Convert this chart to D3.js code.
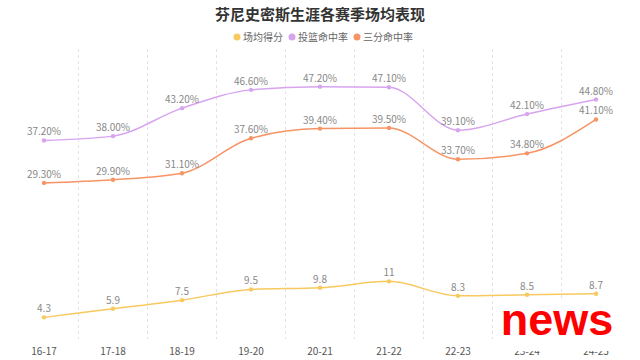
<!DOCTYPE html>
<html><head><meta charset="utf-8">
<script src="https://cdn.jsdelivr.net/npm/d3@7"></script>
<style>body{margin:0;background:#fff}svg{display:block}</style>
</head><body><svg id="c" width="640" height="360"></svg>
<script>
const seasons = ["16-17","17-18","18-19","19-20","20-21","21-22","22-23","23-24","24-25"];
const points = [4.3,5.9,7.5,9.5,9.8,11,8.3,8.5,8.7];
const fgPct = [37.2,38.0,43.2,46.6,47.2,47.1,39.1,42.1,44.8];
const threePct = [29.3,29.9,31.1,37.6,39.4,39.5,33.7,34.8,41.1];
const seriesNames = ["场均得分","投篮命中率","三分命中率"];
const colors = ["#f7c95f","#d7a4f0","#f79465"];

const svg = d3.select("#c");
const font = "'Noto Sans CJK SC','Noto Sans',sans-serif";
const x = d3.scaleBand().domain(seasons).range([9.5,630.5]);
const y = d3.scaleLinear().domain([0,54.2]).range([340.5,49]);

svg.append("text").attr("x",320).attr("y",20).attr("text-anchor","middle")
  .attr("font-family",font).attr("font-weight","bold").attr("font-size",15).attr("fill","#333")
  .text("芬尼史密斯生涯各赛季场均表现");

// legend
const legX = [237,292,357];
seriesNames.forEach((n,i)=>{
  svg.append("circle").attr("cx",legX[i]).attr("cy",37).attr("r",3.5).attr("fill",colors[i]);
  svg.append("text").attr("x",legX[i]+6).attr("y",40.5).attr("font-family",font).attr("font-size",10)
    .attr("fill","#666").text(n);
});

// grid
const bounds = seasons.slice(1).map(s=>x(s));
svg.selectAll("line.g").data(bounds).enter().append("line")
  .attr("x1",d=>d).attr("x2",d=>d).attr("y1",49).attr("y2",339)
  .attr("stroke","#e3e3e3").attr("stroke-dasharray","3,3");

const cx = s=>x(s)+x.bandwidth()/2;
const data = [points,fgPct,threePct];
const fmt = [d=>String(d), d=>d.toFixed(2)+"%", d=>d.toFixed(2)+"%"];
data.forEach((arr,i)=>{
  const line = d3.line().x((d,j)=>cx(seasons[j])).y(d=>y(d)).curve(d3.curveMonotoneX);
  svg.append("path").attr("d",line(arr)).attr("fill","none").attr("stroke",colors[i]).attr("stroke-width",1.5);
  svg.selectAll(null).data(arr).enter().append("circle")
    .attr("cx",(d,j)=>cx(seasons[j])).attr("cy",d=>y(d)).attr("r",2.2).attr("fill",colors[i]);
  svg.selectAll(null).data(arr).enter().append("text")
    .attr("x",(d,j)=>cx(seasons[j])).attr("y",d=>y(d)-5).attr("text-anchor","middle")
    .attr("font-family",font).attr("font-size",10).attr("fill","#888").text(fmt[i]);
});

// x axis labels
svg.selectAll("text.xl").data(seasons).enter().append("text")
  .attr("x",d=>cx(d)).attr("y",355).attr("text-anchor","middle")
  .attr("font-family",font).attr("font-size",10).attr("fill","#555").text(d=>d);

// watermark
svg.append("rect").attr("x",502).attr("y",300).attr("width",110).attr("height",51).attr("fill","#fff");
svg.append("text").attr("x",557).attr("y",335).attr("text-anchor","middle")
  .attr("font-family","'Liberation Sans Narrow','Liberation Sans',sans-serif").attr("font-weight","bold")
  .attr("font-size",45).attr("fill","#ff0000").text("news");
</script></body></html>
